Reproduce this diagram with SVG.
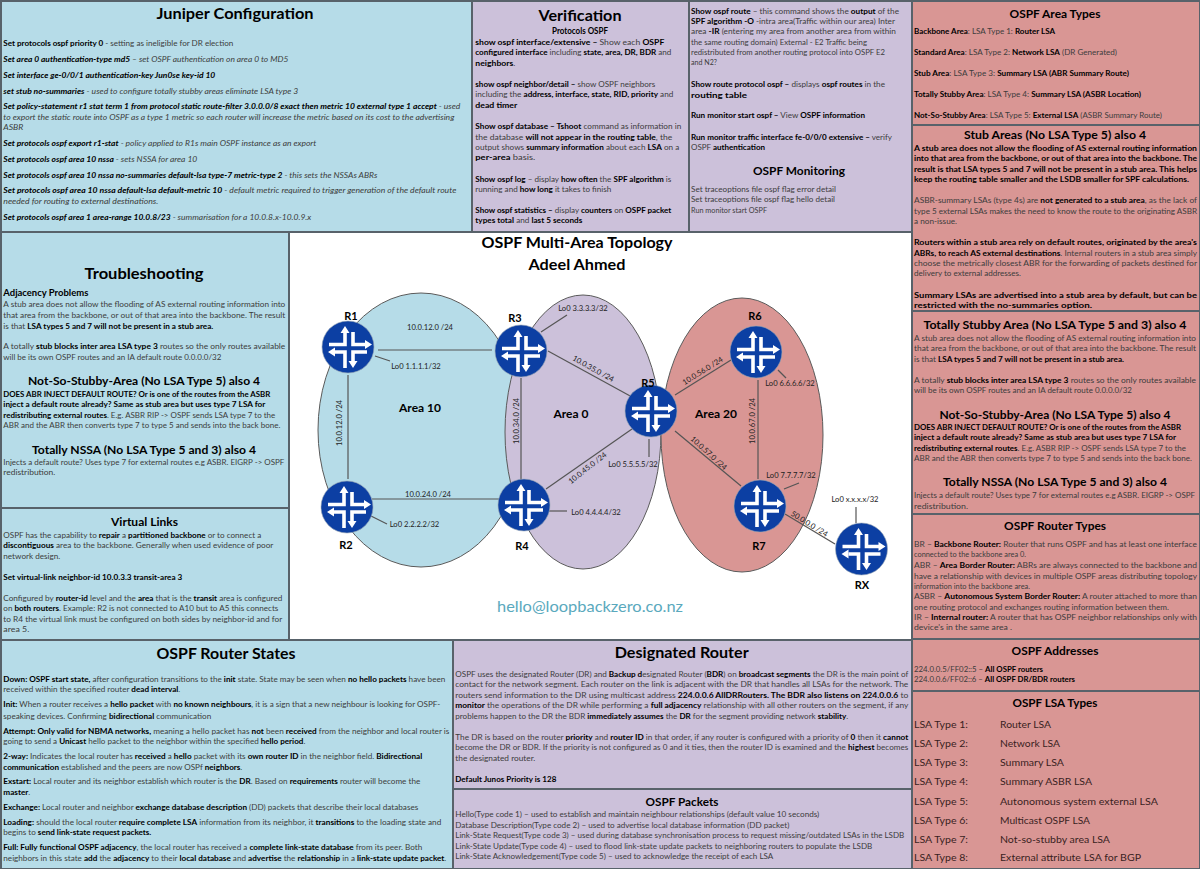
<svg xmlns="http://www.w3.org/2000/svg" width="1200" height="869" viewBox="0 0 1200 869">
<style>
text{font-family:Lato,"Liberation Sans",sans-serif;font-size:7.8px;fill:#3c3c3c}
.b,.bi{font-weight:700;fill:#000}
.i,.bi{font-style:italic}
.h{font-weight:700;fill:#000;text-anchor:middle}
.l{font-size:10px;fill:#3a1f1f}
.e{font-size:7.6px;fill:#222;text-anchor:middle}
.n{font-size:11px;font-weight:700;fill:#000;text-anchor:middle}
.p{stroke:#58626a;stroke-width:2}
.blue{fill:#b6dce8}.pur{fill:#ccc1da}.pink{fill:#d99694}
.c line{stroke:#555;stroke-width:1.2}
.area{stroke:#5a5a5a;stroke-width:1}
</style>
<defs>
<g id="rt">
<circle r="26" fill="#0c3fa3" stroke="#9aa7b5" stroke-width=".6"/>
<g fill="none" stroke="#fff" stroke-width="3.6">
<path d="M-19-2.5H-3V-15"/>
<path d="M5-15V-2.5H18"/>
<path d="M-13 5H-3V21"/>
<path d="M19 5H5V15"/>
</g>
<path fill="#fff" d="M-7.5-14-3-21 1.5-14ZM17-7 24-2.5 17 2ZM-13 .5-20 5-13 9.5ZM.5 14 5 21 9.500 14Z"/>
</g>
</defs>
<rect width="1200" height="869" fill="#fff"/>

<g id="panel-juniper">
<rect class="blue p" x="1" y="1" width="471" height="231"/>
<text class="h" x="235" y="19" style="font-size:15px" lengthAdjust="spacingAndGlyphs" textLength="157">Juniper Configuration</text>
<text x="3.300" y="46" lengthAdjust="spacingAndGlyphs" textLength="230"><tspan class="b">Set protocols ospf priority 0</tspan> - setting as ineligible for DR election</text>
<text x="3.300" y="62" lengthAdjust="spacingAndGlyphs" textLength="285"><tspan class="bi">Set area 0 authentication-type md5</tspan><tspan class="i"> – set OSPF authentication on area 0 to MD5</tspan></text>
<text x="3.300" y="78" lengthAdjust="spacingAndGlyphs" textLength="212" class="bi">Set interface ge-0/0/1 authentication-key Jun0se key-id 10</text>
<text x="3.300" y="94" lengthAdjust="spacingAndGlyphs" textLength="295"><tspan class="bi">set stub no-summaries</tspan><tspan class="i"> - used to configure totally stubby areas eliminate LSA type 3</tspan></text>
<text x="3.300" y="109" lengthAdjust="spacingAndGlyphs" textLength="457"><tspan class="bi">Set policy-statement r1 stat term 1 from protocol static route-filter 3.0.0.0/8 exact then metric 10 external type 1 accept</tspan><tspan class="i"> - used</tspan></text>
<text x="3.300" y="120" lengthAdjust="spacingAndGlyphs" textLength="451" class="i">to export the static route into OSPF as a type 1 metric so each router will increase the metric based on its cost to the advertising</text>
<text x="3.300" y="130" lengthAdjust="spacingAndGlyphs" textLength="20" class="i">ASBR</text>
<text x="3.300" y="146" lengthAdjust="spacingAndGlyphs" textLength="313"><tspan class="bi">Set protocols ospf export r1-stat</tspan><tspan class="i"> - policy applied to R1s main OSPF instance as an export</tspan></text>
<text x="3.300" y="162" lengthAdjust="spacingAndGlyphs" textLength="194"><tspan class="bi">Set protocols ospf area 10 nssa</tspan><tspan class="i"> - sets NSSA for area 10</tspan></text>
<text x="3.300" y="178" lengthAdjust="spacingAndGlyphs" textLength="374"><tspan class="bi">Set protocols ospf area 10 nssa no-summaries default-lsa type-7 metric-type 2</tspan><tspan class="i"> - this sets the NSSAs ABRs</tspan></text>
<text x="3.300" y="193" lengthAdjust="spacingAndGlyphs" textLength="453"><tspan class="bi">Set protocols ospf area 10 nssa default-lsa default-metric 10</tspan><tspan class="i"> - default metric required to trigger generation of the default route</tspan></text>
<text x="3.300" y="204" lengthAdjust="spacingAndGlyphs" textLength="155" class="i">needed for routing to external destinations.</text>
<text x="3.300" y="220" lengthAdjust="spacingAndGlyphs" textLength="308"><tspan class="bi">Set protocols ospf area 1 area-range 10.0.8/23</tspan><tspan class="i"> - summarisation for a 10.0.8.x-10.0.9.x</tspan></text>
</g>

<g id="panel-verification">
<rect class="pur p" x="472" y="1" width="217" height="231"/>
<rect class="pur p" x="689" y="1" width="223" height="231"/>
<text class="h" x="580" y="21" style="font-size:15px" lengthAdjust="spacingAndGlyphs" textLength="83">Verification</text>
<text class="h" x="580" y="34" style="font-size:8.5px" lengthAdjust="spacingAndGlyphs" textLength="56">Protocols OSPF</text>
<text x="475.300" y="44.500" lengthAdjust="spacingAndGlyphs" textLength="189"><tspan class="b">show ospf interface/extensive – </tspan>Show each <tspan class="b">OSPF</tspan></text>
<text x="475.300" y="55" lengthAdjust="spacingAndGlyphs" textLength="196"><tspan class="b">configured interface</tspan> including <tspan class="b">state, area, DR, BDR</tspan> and</text>
<text x="475.300" y="65.500" lengthAdjust="spacingAndGlyphs" textLength="40"><tspan class="b">neighbors</tspan>.</text>
<text x="475.300" y="87" lengthAdjust="spacingAndGlyphs" textLength="180"><tspan class="b">show ospf neighbor/detail –</tspan> show OSPF neighbors</text>
<text x="475.300" y="97" lengthAdjust="spacingAndGlyphs" textLength="198">including the <tspan class="b">address, interface, state, RID, priority</tspan> and</text>
<text x="475.300" y="107.500" lengthAdjust="spacingAndGlyphs" textLength="42" class="b">dead timer</text>
<text x="475.300" y="129" lengthAdjust="spacingAndGlyphs" textLength="206"><tspan class="b">Show ospf database – Tshoot</tspan> command as information in</text>
<text x="475.300" y="139.500" lengthAdjust="spacingAndGlyphs" textLength="197">the database <tspan class="b">will not appear in the routing table</tspan>, the</text>
<text x="475.300" y="150" lengthAdjust="spacingAndGlyphs" textLength="204">output shows <tspan class="b">summary information</tspan> about each <tspan class="b">LSA</tspan> on a</text>
<text x="475.300" y="160" lengthAdjust="spacingAndGlyphs" textLength="60"><tspan class="b">per-area</tspan> basis.</text>
<text x="475.300" y="182" lengthAdjust="spacingAndGlyphs" textLength="196"><tspan class="b">Show ospf log</tspan> – display <tspan class="b">how often</tspan> the <tspan class="b">SPF algorithm</tspan> is</text>
<text x="475.300" y="192" lengthAdjust="spacingAndGlyphs" textLength="136">running and <tspan class="b">how long</tspan> it takes to finish</text>
<text x="475.300" y="213" lengthAdjust="spacingAndGlyphs" textLength="196"><tspan class="b">Show ospf statistics –</tspan> display <tspan class="b">counters</tspan> on <tspan class="b">OSPF packet</tspan></text>
<text x="475.300" y="223" lengthAdjust="spacingAndGlyphs" textLength="107"><tspan class="b">types total</tspan> and <tspan class="b">last 5 seconds</tspan></text>
<text x="691" y="13.500" lengthAdjust="spacingAndGlyphs" textLength="208"><tspan class="b">Show ospf route</tspan> – this command shows the <tspan class="b">output</tspan> of the</text>
<text x="691" y="24" lengthAdjust="spacingAndGlyphs" textLength="204"><tspan class="b">SPF algorithm -O</tspan> -intra area(Traffic within our area) Inter</text>
<text x="691" y="34" lengthAdjust="spacingAndGlyphs" textLength="205">area <tspan class="b">-IR</tspan> (entering my area from another area from within</text>
<text x="691" y="44.500" lengthAdjust="spacingAndGlyphs" textLength="176">the same routing domain) External - E2 Traffic being</text>
<text x="691" y="55" lengthAdjust="spacingAndGlyphs" textLength="194">redistributed from another routing protocol into OSPF E2</text>
<text x="691" y="65" lengthAdjust="spacingAndGlyphs" textLength="26">and N2?</text>
<text x="691" y="87" lengthAdjust="spacingAndGlyphs" textLength="194"><tspan class="b">Show route protocol ospf –</tspan> displays <tspan class="b">ospf routes</tspan> in the</text>
<text x="691" y="97.500" lengthAdjust="spacingAndGlyphs" textLength="56" class="b">routing table</text>
<text x="691" y="118" lengthAdjust="spacingAndGlyphs" textLength="174"><tspan class="b">Run monitor start ospf –</tspan> View <tspan class="b">OSPF information</tspan></text>
<text x="691" y="139.500" lengthAdjust="spacingAndGlyphs" textLength="201"><tspan class="b">Run monitor traffic interface fe-0/0/0 extensive –</tspan> verify</text>
<text x="691" y="150" lengthAdjust="spacingAndGlyphs" textLength="74">OSPF <tspan class="b">authentication</tspan></text>
<text class="h" x="799" y="175" style="font-size:12px" lengthAdjust="spacingAndGlyphs" textLength="92">OSPF Monitoring</text>
<text x="691" y="191.500" lengthAdjust="spacingAndGlyphs" textLength="145">Set traceoptions file ospf flag error detail</text>
<text x="691" y="202" lengthAdjust="spacingAndGlyphs" textLength="144">Set traceoptions file ospf flag hello detail</text>
<text x="691" y="212.500" lengthAdjust="spacingAndGlyphs" textLength="76">Run monitor start OSPF</text>
</g>

<g id="panel-area-types">
<rect class="pink p" x="912" y="1" width="288" height="124"/>
<text class="h" x="1055" y="18" style="font-size:12px" lengthAdjust="spacingAndGlyphs" textLength="91">OSPF Area Types</text>
<text x="914" y="34" lengthAdjust="spacingAndGlyphs" textLength="141"><tspan class="b">Backbone Area</tspan>: LSA Type 1: <tspan class="b">Router LSA</tspan></text>
<text x="914" y="55" lengthAdjust="spacingAndGlyphs" textLength="203"><tspan class="b">Standard Area</tspan>: LSA Type 2: <tspan class="b">Network LSA</tspan> (DR Generated)</text>
<text x="914" y="76" lengthAdjust="spacingAndGlyphs" textLength="215"><tspan class="b">Stub Area</tspan>: LSA Type 3: <tspan class="b">Summary LSA (ABR Summary Route)</tspan></text>
<text x="914" y="97" lengthAdjust="spacingAndGlyphs" textLength="227"><tspan class="b">Totally Stubby Area</tspan>: LSA Type 4: <tspan class="b">Summary LSA (ASBR Location)</tspan></text>
<text x="914" y="118" lengthAdjust="spacingAndGlyphs" textLength="248"><tspan class="b">Not-So-Stubby Area</tspan>: LSA Type 5: <tspan class="b">External LSA</tspan> (ASBR Summary Route)</text>
</g>

<g id="panel-stub">
<rect class="pink p" x="912" y="125" width="288" height="186"/>
<text class="h" x="1055" y="139" style="font-size:11.500px" lengthAdjust="spacingAndGlyphs" textLength="182">Stub Areas (No LSA Type 5) also 4</text>
<text class="b" x="914" y="150.500" lengthAdjust="spacingAndGlyphs" textLength="283">A stub area does not allow the flooding of AS external routing information</text>
<text class="b" x="914" y="161" lengthAdjust="spacingAndGlyphs" textLength="283">into that area from the backbone, or out of that area into the backbone. The</text>
<text class="b" x="914" y="171.500" lengthAdjust="spacingAndGlyphs" textLength="283">result is that LSA types 5 and 7 will not be present in a stub area. This helps</text>
<text class="b" x="914" y="182" lengthAdjust="spacingAndGlyphs" textLength="275">keep the routing table smaller and the LSDB smaller for SPF calculations.</text>
<text x="914" y="203" lengthAdjust="spacingAndGlyphs" textLength="283">ASBR-summary LSAs (type 4s) are <tspan class="b">not generated to a stub area</tspan>, as the lack of</text>
<text x="914" y="213.500" lengthAdjust="spacingAndGlyphs" textLength="283">type 5 external LSAs makes the need to know the route to the originating ASBR</text>
<text x="914" y="224" lengthAdjust="spacingAndGlyphs" textLength="43">a non-issue.</text>
<text x="914" y="245" lengthAdjust="spacingAndGlyphs" textLength="283" class="b">Routers within a stub area rely on default routes, originated by the area's</text>
<text x="914" y="255.500" lengthAdjust="spacingAndGlyphs" textLength="283"><tspan class="b">ABRs, to reach AS external destinations</tspan>. Internal routers in a stub area simply</text>
<text x="914" y="266" lengthAdjust="spacingAndGlyphs" textLength="283">choose the metrically closest ABR for the forwarding of packets destined for</text>
<text x="914" y="276" lengthAdjust="spacingAndGlyphs" textLength="107">delivery to external addresses.</text>
<text class="b" x="914" y="297.500" lengthAdjust="spacingAndGlyphs" textLength="283">Summary LSAs are advertised into a stub area by default, but can be</text>
<text class="b" x="914" y="308" lengthAdjust="spacingAndGlyphs" textLength="178">restricted with the no-summaries option.</text>
</g>

<g id="panel-totally">
<rect class="pink p" x="912" y="311" width="288" height="203"/>
<text class="h" x="1055" y="329" style="font-size:11.500px" lengthAdjust="spacingAndGlyphs" textLength="263">Totally Stubby Area (No LSA Type 5 and 3) also 4</text>
<text x="914" y="341" lengthAdjust="spacingAndGlyphs" textLength="282">A stub area does not allow the flooding of AS external routing information into</text>
<text x="914" y="351" lengthAdjust="spacingAndGlyphs" textLength="282">that area from the backbone, or out of that area into the backbone. The result</text>
<text x="914" y="361.500" lengthAdjust="spacingAndGlyphs" textLength="210">is that <tspan class="b">LSA types 5 and 7 will not be present in a stub area.</tspan></text>
<text x="914" y="382.500" lengthAdjust="spacingAndGlyphs" textLength="282">A totally <tspan class="b">stub blocks inter area LSA type 3</tspan> routes so the only routes available</text>
<text x="914" y="393" lengthAdjust="spacingAndGlyphs" textLength="218">will be its own OSPF routes and an IA default route 0.0.0.0/32</text>
<text class="h" x="1055" y="418.500" style="font-size:11.500px" lengthAdjust="spacingAndGlyphs" textLength="231">Not-So-Stubby-Area (No LSA Type 5) also 4</text>
<text x="914" y="429.500" lengthAdjust="spacingAndGlyphs" textLength="267" class="b">DOES ABR INJECT DEFAULT ROUTE? Or is one of the routes from the ASBR</text>
<text x="914" y="440" lengthAdjust="spacingAndGlyphs" textLength="262" class="b">inject a default route already? Same as stub area but uses type 7 LSA for</text>
<text x="914" y="451" lengthAdjust="spacingAndGlyphs" textLength="272"><tspan class="b">redistributing external routes</tspan>. E.g. ASBR RIP -&gt; OSPF sends LSA type 7 to the</text>
<text x="914" y="461" lengthAdjust="spacingAndGlyphs" textLength="278">ABR and the ABR then converts type 7 to type 5 and sends into the back bone.</text>
<text class="h" x="1055" y="486" style="font-size:11.500px" lengthAdjust="spacingAndGlyphs" textLength="224">Totally NSSA (No LSA Type 5 and 3) also 4</text>
<text x="914" y="498" lengthAdjust="spacingAndGlyphs" textLength="281">Injects a default route? Uses type 7 for external routes e.g ASBR. EIGRP -&gt; OSPF</text>
<text x="914" y="508.500" lengthAdjust="spacingAndGlyphs" textLength="54">redistribution.</text>
</g>

<g id="panel-router-types">
<rect class="pink p" x="912" y="514" width="288" height="125"/>
<text class="h" x="1055" y="530" style="font-size:12px" lengthAdjust="spacingAndGlyphs" textLength="102">OSPF Router Types</text>
<text x="914" y="547" lengthAdjust="spacingAndGlyphs" textLength="283">BR – <tspan class="b">Backbone Router:</tspan> Router that runs OSPF and has at least one interface</text>
<text x="914" y="557" lengthAdjust="spacingAndGlyphs" textLength="112">connected to the backbone area 0.</text>
<text x="914" y="568" lengthAdjust="spacingAndGlyphs" textLength="283">ABR – <tspan class="b">Area Border Router:</tspan> ABRs are always connected to the backbone and</text>
<text x="914" y="578.500" lengthAdjust="spacingAndGlyphs" textLength="283">have a relationship with devices in multiple OSPF areas distributing topology</text>
<text x="914" y="589" lengthAdjust="spacingAndGlyphs" textLength="116">information into the backbone area.</text>
<text x="914" y="599" lengthAdjust="spacingAndGlyphs" textLength="283">ASBR – <tspan class="b">Autonomous System Border Router:</tspan> A router attached to more than</text>
<text x="914" y="609.500" lengthAdjust="spacingAndGlyphs" textLength="255">one routing protocol and exchanges routing information between them.</text>
<text x="914" y="620" lengthAdjust="spacingAndGlyphs" textLength="283">IR – <tspan class="b">Internal router:</tspan> A router that has OSPF neighbor relationships only with</text>
<text x="914" y="630" lengthAdjust="spacingAndGlyphs" textLength="98">device's in the same area .</text>
</g>

<g id="panel-addresses">
<rect class="pink p" x="912" y="639" width="288" height="52"/>
<text class="h" x="1055" y="654.500" style="font-size:11.500px" lengthAdjust="spacingAndGlyphs" textLength="87">OSPF Addresses</text>
<text x="914" y="672" lengthAdjust="spacingAndGlyphs" textLength="129">224.0.0.5/FF02::5 – <tspan class="b">All OSPF routers</tspan></text>
<text x="914" y="682" lengthAdjust="spacingAndGlyphs" textLength="161">224.0.0.6/FF02::6 – <tspan class="b">All OSPF DR/BDR routers</tspan></text>
</g>

<g id="panel-lsa-types">
<rect class="pink p" x="912" y="691" width="288" height="178"/>
<text class="h" x="1055" y="707" style="font-size:11.500px" lengthAdjust="spacingAndGlyphs" textLength="85">OSPF LSA Types</text>
<text class="l" x="914" y="728" lengthAdjust="spacingAndGlyphs" textLength="54">LSA Type 1:</text><text class="l" x="1000" y="728" lengthAdjust="spacingAndGlyphs" textLength="51">Router LSA</text>
<text class="l" x="914" y="747" lengthAdjust="spacingAndGlyphs" textLength="54">LSA Type 2:</text><text class="l" x="1000" y="747" lengthAdjust="spacingAndGlyphs" textLength="60">Network LSA</text>
<text class="l" x="914" y="766" lengthAdjust="spacingAndGlyphs" textLength="54">LSA Type 3:</text><text class="l" x="1000" y="766" lengthAdjust="spacingAndGlyphs" textLength="64">Summary LSA</text>
<text class="l" x="914" y="785" lengthAdjust="spacingAndGlyphs" textLength="54">LSA Type 4:</text><text class="l" x="1000" y="785" lengthAdjust="spacingAndGlyphs" textLength="92">Summary ASBR LSA</text>
<text class="l" x="914" y="804.500" lengthAdjust="spacingAndGlyphs" textLength="54">LSA Type 5:</text><text class="l" x="1000" y="804.500" lengthAdjust="spacingAndGlyphs" textLength="158">Autonomous system external LSA</text>
<text class="l" x="914" y="824" lengthAdjust="spacingAndGlyphs" textLength="54">LSA Type 6:</text><text class="l" x="1000" y="824" lengthAdjust="spacingAndGlyphs" textLength="90">Multicast OSPF LSA</text>
<text class="l" x="914" y="843" lengthAdjust="spacingAndGlyphs" textLength="54">LSA Type 7:</text><text class="l" x="1000" y="843" lengthAdjust="spacingAndGlyphs" textLength="110">Not-so-stubby area LSA</text>
<text class="l" x="914" y="861" lengthAdjust="spacingAndGlyphs" textLength="54">LSA Type 8:</text><text class="l" x="1000" y="861" lengthAdjust="spacingAndGlyphs" textLength="141">External attribute LSA for BGP</text>
</g>

<g id="panel-troubleshooting">
<rect class="blue p" x="1" y="232" width="288" height="276"/>
<text class="h" x="144" y="278.500" style="font-size:15px" lengthAdjust="spacingAndGlyphs" textLength="119">Troubleshooting</text>
<text class="b" x="3.300" y="295.500" style="font-size:9px" lengthAdjust="spacingAndGlyphs" textLength="85">Adjacency Problems</text>
<text x="3.300" y="307" lengthAdjust="spacingAndGlyphs" textLength="282">A stub area does not allow the flooding of AS external routing information into</text>
<text x="3.300" y="318" lengthAdjust="spacingAndGlyphs" textLength="282">that area from the backbone, or out of that area into the backbone. The result</text>
<text x="3.300" y="328.500" lengthAdjust="spacingAndGlyphs" textLength="210">is that <tspan class="b">LSA types 5 and 7 will not be present in a stub area.</tspan></text>
<text x="3.300" y="349" lengthAdjust="spacingAndGlyphs" textLength="282">A totally <tspan class="b">stub blocks inter area LSA type 3</tspan> routes so the only routes available</text>
<text x="3.300" y="360" lengthAdjust="spacingAndGlyphs" textLength="218">will be its own OSPF routes and an IA default route 0.0.0.0/32</text>
<text class="h" x="144" y="385" style="font-size:11.500px" lengthAdjust="spacingAndGlyphs" textLength="232">Not-So-Stubby-Area (No LSA Type 5) also 4</text>
<text class="b" x="3.300" y="396.500" lengthAdjust="spacingAndGlyphs" textLength="267">DOES ABR INJECT DEFAULT ROUTE? Or is one of the routes from the ASBR</text>
<text class="b" x="3.300" y="407" lengthAdjust="spacingAndGlyphs" textLength="262">inject a default route already? Same as stub area but uses type 7 LSA for</text>
<text x="3.300" y="417.500" lengthAdjust="spacingAndGlyphs" textLength="272"><tspan class="b">redistributing external routes</tspan>. E.g. ASBR RIP -&gt; OSPF sends LSA type 7 to the</text>
<text x="3.300" y="428" lengthAdjust="spacingAndGlyphs" textLength="277">ABR and the ABR then converts type 7 to type 5 and sends into the back bone.</text>
<text class="h" x="144" y="453.500" style="font-size:11.500px" lengthAdjust="spacingAndGlyphs" textLength="224">Totally NSSA (No LSA Type 5 and 3) also 4</text>
<text x="3.300" y="465" lengthAdjust="spacingAndGlyphs" textLength="281">Injects a default route? Uses type 7 for external routes e.g ASBR. EIGRP -&gt; OSPF</text>
<text x="3.300" y="475" lengthAdjust="spacingAndGlyphs" textLength="52">redistribution.</text>
</g>

<g id="panel-virtual-links">
<rect class="blue p" x="1" y="508" width="288" height="132"/>
<text class="h" x="144.500" y="526" style="font-size:11.500px" lengthAdjust="spacingAndGlyphs" textLength="67">Virtual Links</text>
<text x="3.300" y="537.500" lengthAdjust="spacingAndGlyphs" textLength="258">OSPF has the capability to <tspan class="b">repair</tspan> a <tspan class="b">partitioned backbone</tspan> or to connect a</text>
<text x="3.300" y="548" lengthAdjust="spacingAndGlyphs" textLength="270"><tspan class="b">discontiguous</tspan> area to the backbone. Generally when used evidence of poor</text>
<text x="3.300" y="558.500" lengthAdjust="spacingAndGlyphs" textLength="57">network design.</text>
<text x="3.300" y="579.500" lengthAdjust="spacingAndGlyphs" textLength="179" class="b">Set virtual-link neighbor-id 10.0.3.3 transit-area 3</text>
<text x="3.300" y="600.500" lengthAdjust="spacingAndGlyphs" textLength="279">Configured by <tspan class="b">router-id</tspan> level and the <tspan class="b">area</tspan> that is the <tspan class="b">transit</tspan> area is configured</text>
<text x="3.300" y="611" lengthAdjust="spacingAndGlyphs" textLength="275">on <tspan class="b">both routers</tspan>. Example: R2 is not connected to A10 but to A5 this connects</text>
<text x="3.300" y="621.500" lengthAdjust="spacingAndGlyphs" textLength="279">to R4 the virtual link must be configured on both sides by neighbor-id and for</text>
<text x="3.300" y="632" lengthAdjust="spacingAndGlyphs" textLength="26">area 5.</text>
</g>

<g id="panel-router-states">
<rect class="blue p" x="1" y="640" width="452" height="229"/>
<text class="h" x="226" y="659" style="font-size:15px" lengthAdjust="spacingAndGlyphs" textLength="139">OSPF Router States</text>
<text x="3.300" y="682" lengthAdjust="spacingAndGlyphs" textLength="442"><tspan class="b">Down: OSPF start state,</tspan> after configuration transitions to the <tspan class="b">init</tspan> state. State may be seen when <tspan class="b">no hello packets</tspan> have been</text>
<text x="3.300" y="692.200" lengthAdjust="spacingAndGlyphs" textLength="177">received within the specified router <tspan class="b">dead interval</tspan>.</text>
<text x="3.300" y="707.200" lengthAdjust="spacingAndGlyphs" textLength="437"><tspan class="b">Init:</tspan> When a router receives a <tspan class="b">hello packet</tspan> with <tspan class="b">no known neighbours</tspan>, it is a sign that a new neighbour is looking for OSPF-</text>
<text x="3.300" y="718.500" lengthAdjust="spacingAndGlyphs" textLength="208">speaking devices. Confirming <tspan class="b">bidirectional</tspan> communication</text>
<text x="3.300" y="733.500" lengthAdjust="spacingAndGlyphs" textLength="446"><tspan class="b">Attempt: Only valid for NBMA networks,</tspan> meaning a hello packet has <tspan class="b">not</tspan> been <tspan class="b">received</tspan> from the neighbor and local router is</text>
<text x="3.300" y="744" lengthAdjust="spacingAndGlyphs" textLength="302">going to send a <tspan class="b">Unicast</tspan> hello packet to the neighbor within the specified <tspan class="b">hello period</tspan>.</text>
<text x="3.300" y="759" lengthAdjust="spacingAndGlyphs" textLength="419"><tspan class="b">2-way:</tspan> Indicates the local router has <tspan class="b">received</tspan> a <tspan class="b">hello</tspan> packet with its <tspan class="b">own router ID</tspan> in the neighbor field. <tspan class="b">Bidirectional</tspan></text>
<text x="3.300" y="770" lengthAdjust="spacingAndGlyphs" textLength="239"><tspan class="b">communication</tspan> established and the peers are now OSPf <tspan class="b">neighbors</tspan>.</text>
<text x="3.300" y="784" lengthAdjust="spacingAndGlyphs" textLength="417"><tspan class="b">Exstart:</tspan> Local router and its neighbor establish which router is the <tspan class="b">DR</tspan>. Based on <tspan class="b">requirements</tspan> router will become the</text>
<text x="3.300" y="794.800" lengthAdjust="spacingAndGlyphs" textLength="27"><tspan class="b">master</tspan>.</text>
<text x="3.300" y="810" lengthAdjust="spacingAndGlyphs" textLength="415"><tspan class="b">Exchange:</tspan> Local router and neighbor <tspan class="b">exchange database description</tspan> (DD) packets that describe their local databases</text>
<text x="3.300" y="824.500" lengthAdjust="spacingAndGlyphs" textLength="438"><tspan class="b">Loading:</tspan> should the local router <tspan class="b">require complete LSA</tspan> information from its neighbor, it <tspan class="b">transitions</tspan> to the loading state and</text>
<text x="3.300" y="835.200" lengthAdjust="spacingAndGlyphs" textLength="148">begins to <tspan class="b">send link-state request packets.</tspan></text>
<text x="3.300" y="850" lengthAdjust="spacingAndGlyphs" textLength="419"><tspan class="b">Full: Fully functional OSPF adjacency</tspan>, the local router has received a <tspan class="b">complete link-state database</tspan> from its peer. Both</text>
<text x="3.300" y="860.500" lengthAdjust="spacingAndGlyphs" textLength="443">neighbors in this state <tspan class="b">add</tspan> the <tspan class="b">adjacency</tspan> to their <tspan class="b">local database</tspan> and <tspan class="b">advertise</tspan> the <tspan class="b">relationship</tspan> in a <tspan class="b">link-state update packet</tspan>.</text>
</g>

<g id="panel-designated-router">
<rect class="pur p" x="453" y="640" width="459" height="149"/>
<text class="h" x="681.700" y="658" style="font-size:15px" lengthAdjust="spacingAndGlyphs" textLength="134">Designated Router</text>
<text x="455.300" y="676.800" lengthAdjust="spacingAndGlyphs" textLength="453">OSPF uses the designated Router (DR) and <tspan class="b">Backup d</tspan>esignated Router (<tspan class="b">BDR</tspan>) on <tspan class="b">broadcast segments</tspan> the DR is the main point of</text>
<text x="455.300" y="687.200" lengthAdjust="spacingAndGlyphs" textLength="453">contact for the network segment. Each router on the link is adjacent with the DR that handles all LSAs for the network. The</text>
<text x="455.300" y="697.800" lengthAdjust="spacingAndGlyphs" textLength="453">routers send information to the DR using multicast address <tspan class="b">224.0.0.6 AllDRRouters. The BDR also listens on 224.0.0.6</tspan> to</text>
<text x="455.300" y="708.200" lengthAdjust="spacingAndGlyphs" textLength="453"><tspan class="b">monitor</tspan> the operations of the DR while performing a <tspan class="b">full adjacency</tspan> relationship with all other routers on the segment, if any</text>
<text x="455.300" y="718.800" lengthAdjust="spacingAndGlyphs" textLength="393">problems happen to the DR the BDR <tspan class="b">immediately assumes</tspan> the <tspan class="b">DR</tspan> for the segment providing network <tspan class="b">stability</tspan>.</text>
<text x="455.300" y="739.800" lengthAdjust="spacingAndGlyphs" textLength="453">The DR is based on the router <tspan class="b">priority</tspan> and <tspan class="b">router ID</tspan> in that order, if any router is configured with a priority of <tspan class="b">0</tspan> then it <tspan class="b">cannot</tspan></text>
<text x="455.300" y="750.200" lengthAdjust="spacingAndGlyphs" textLength="453">become the DR or BDR. If the priority is not configured as 0 and it ties, then the router ID is examined and the <tspan class="b">highest</tspan> becomes</text>
<text x="455.300" y="760.800" lengthAdjust="spacingAndGlyphs" textLength="80">the designated router.</text>
<text x="455.300" y="782" lengthAdjust="spacingAndGlyphs" textLength="101" class="b">Default Junos Priority is 128</text>
</g>

<g id="panel-packets">
<rect class="pur p" x="453" y="789" width="459" height="80"/>
<text class="h" x="682" y="806" style="font-size:12px" lengthAdjust="spacingAndGlyphs" textLength="73">OSPF Packets</text>
<text x="455.300" y="817.200" lengthAdjust="spacingAndGlyphs" textLength="364">Hello(Type code 1) – used to establish and maintain neighbour relationships (default value 10 seconds)</text>
<text x="455.300" y="827.500" lengthAdjust="spacingAndGlyphs" textLength="334">Database Description(Type code 2) – used to advertise local database information (DD packet)</text>
<text x="455.300" y="838.200" lengthAdjust="spacingAndGlyphs" textLength="449">Link-State Request(Type code 3) – used during database synchronisation process to request missing/outdated LSAs in the LSDB</text>
<text x="455.300" y="848.500" lengthAdjust="spacingAndGlyphs" textLength="417">Link-State Update(Type code 4) – used to flood link-state update packets to neighboring routers to populate the LSDB</text>
<text x="455.300" y="859.200" lengthAdjust="spacingAndGlyphs" textLength="318">Link-State Acknowledgement(Type code 5) – used to acknowledge the receipt of each LSA</text>
</g>

<g id="topology-title">
<text class="h" x="577" y="248" style="font-size:15px" lengthAdjust="spacingAndGlyphs" textLength="191">OSPF Multi-Area Topology</text>
<text class="h" x="577" y="270" style="font-size:15px" lengthAdjust="spacingAndGlyphs" textLength="97">Adeel Ahmed</text>
<text x="590" y="612" style="font-size:16px;fill:#5aa9bd;text-anchor:middle" lengthAdjust="spacingAndGlyphs" textLength="186">hello@loopbackzero.co.nz</text>
</g>

<g id="areas">
<ellipse class="blue area" cx="421" cy="430" rx="103" ry="137"/>
<ellipse class="pur area" cx="583" cy="432" rx="78" ry="137"/>
<ellipse class="pink area" cx="742" cy="435" rx="81" ry="137"/>
<text class="n" x="420" y="412" style="font-size:12px">Area 10</text>
<text class="n" x="571" y="418" style="font-size:12px">Area 0</text>
<text class="n" x="716" y="418" style="font-size:12px">Area 20</text>
</g>

<g id="connectors" class="c">
<line x1="378" y1="350" x2="492" y2="350"/>
<line x1="348" y1="375" x2="348" y2="479"/>
<line x1="372" y1="499" x2="500" y2="499"/>
<line x1="521" y1="378" x2="521" y2="482"/>
<line x1="548" y1="351" x2="632" y2="397"/>
<line x1="546" y1="489" x2="632" y2="429"/>
<line x1="675" y1="395" x2="731" y2="360"/>
<line x1="675" y1="431" x2="741" y2="486"/>
<line x1="758" y1="380" x2="758" y2="479"/>
<line x1="785" y1="514" x2="835" y2="544"/>
<line x1="856" y1="507" x2="856" y2="523"/>
<line x1="375" y1="356" x2="390" y2="361"/>
<line x1="371" y1="516" x2="387" y2="524"/>
<line x1="541" y1="332" x2="567" y2="315"/>
<line x1="549" y1="511" x2="567" y2="511"/>
<line x1="649" y1="439" x2="649" y2="457"/>
<line x1="778" y1="370" x2="786" y2="378"/>
<line x1="784" y1="489" x2="799" y2="483"/>
<text class="e" x="430" y="330">10.0.12.0 /24</text>
<text class="e" x="416" y="369">Lo0 1.1.1.1/32</text>
<text class="e" transform="translate(342 423) rotate(-90)">10.0.12.0 /24</text>
<text class="e" x="428" y="497">10.0.24.0 /24</text>
<text class="e" x="414.500" y="527">Lo0 2.2.2.2/32</text>
<text class="e" x="583" y="311">Lo0 3.3.3.3/32</text>
<text class="e" transform="translate(519 421) rotate(-90)">10.0.34.0 /24</text>
<text class="e" transform="translate(592 371) rotate(29)">10.0.35.0 /24</text>
<text class="e" transform="translate(589 470) rotate(-38)">10.0.45.0 /24</text>
<text class="e" x="633" y="467">Lo0 5.5.5.5/32</text>
<text class="e" x="596" y="515">Lo0 4.4.4.4/32</text>
<text class="e" transform="translate(704 373) rotate(-32)">10.0.56.0 /24</text>
<text class="e" x="790" y="386">Lo0 6.6.6.6/32</text>
<text class="e" transform="translate(755 421) rotate(-90)">10.0.67.0 /24</text>
<text class="e" transform="translate(707 455) rotate(42)">10.0.57.0 /24</text>
<text class="e" x="791" y="478">Lo0 7.7.7.7/32</text>
<text class="e" x="855" y="502">Lo0 x.x.x.x/32</text>
<text class="e" transform="translate(808 526) rotate(32)">50.0.0.0 /24</text>
</g>

<g id="R1"><use href="#rt" x="348" y="347"/><text class="n" x="351" y="319.500">R1</text></g>
<g id="R2"><use href="#rt" x="347" y="507"/><text class="n" x="346" y="548.500">R2</text></g>
<g id="R3"><use href="#rt" x="521" y="351"/><text class="n" x="515" y="321.500">R3</text></g>
<g id="R4"><use href="#rt" x="524" y="505"/><text class="n" x="522" y="549.500">R4</text></g>
<g id="R5"><use href="#rt" x="651" y="411"/><text class="n" x="648" y="386.500">R5</text></g>
<g id="R6"><use href="#rt" x="756" y="352"/><text class="n" x="755" y="319.500">R6</text></g>
<g id="R7"><use href="#rt" x="760" y="506"/><text class="n" x="759" y="549.500">R7</text></g>
<g id="RX"><use href="#rt" x="861.500" y="549"/><text class="n" x="862" y="588.500">RX</text></g>
</svg>
